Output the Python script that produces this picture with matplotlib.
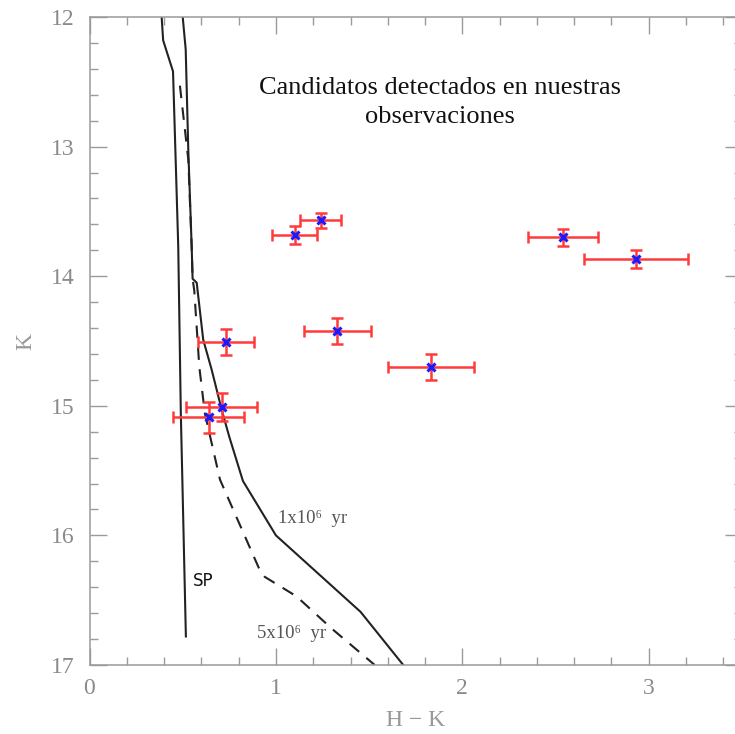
import matplotlib
matplotlib.use("Agg")
import matplotlib.pyplot as plt
from matplotlib.ticker import MultipleLocator

# Observed candidates: H-K colour, K magnitude and their errors
hk = [1.10, 1.24, 1.33, 0.73, 0.71, 0.64, 1.83, 2.54, 2.93]
kmag = [13.68, 13.57, 14.42, 14.51, 15.01, 15.09, 14.70, 13.70, 13.87]
hk_err = [0.12, 0.11, 0.18, 0.15, 0.19, 0.19, 0.23, 0.19, 0.28]
k_err = [0.07, 0.06, 0.10, 0.10, 0.11, 0.12, 0.10, 0.065, 0.07]

# Main sequence (SP) locus
sp_hk = [0.387, 0.395, 0.448, 0.476, 0.490, 0.498, 0.517]
sp_k = [12.0, 12.18, 12.42, 13.77, 15.07, 15.57, 16.78]

# 1 Myr isochrone
iso1_hk = [0.500, 0.516, 0.530, 0.548, 0.553, 0.575, 0.610, 0.655, 0.709,
           0.750, 0.823, 1.000, 1.454, 1.683]
iso1_k = [12.0, 12.25, 13.03, 13.77, 14.02, 14.05, 14.49, 14.72, 15.03,
          15.24, 15.58, 16.00, 16.59, 17.0]

# 5 Myr isochrone
iso5_hk = [0.485, 0.530, 0.548, 0.553, 0.562, 0.589, 0.619, 0.700, 0.914,
           0.940, 1.110, 1.300, 1.530]
iso5_k = [12.53, 13.10, 13.77, 14.02, 14.11, 14.70, 15.06, 15.57, 16.27,
          16.32, 16.47, 16.72, 17.0]

plt.rcParams['font.family'] = ['Liberation Serif', 'DejaVu Serif']
axis_gray = '#9a9a9a'

fig = plt.figure(figsize=(7.35, 7.34), dpi=100)
ax = fig.add_axes([89.5 / 735, (734 - 665) / 734, (742 - 89.5) / 735, (665 - 17) / 734])

line_color = '#222222'
ax.plot(sp_hk, sp_k, color=line_color, lw=1.5)
ax.plot(iso1_hk, iso1_k, color=line_color, lw=1.5)
ax.plot(iso5_hk, iso5_k, color=line_color, lw=1.5, ls=(0, (6, 4.5)))

ax.errorbar(hk, kmag, xerr=hk_err, yerr=k_err, fmt='none', ecolor='#ff3a3a',
            elinewidth=1.8, capsize=4.5, capthick=1.8, zorder=3)
ax.plot(hk, kmag, ls='none', marker='x', ms=5.5, mew=2.2, color='#1a1aff', zorder=4)

ax.text(0.555, 16.35, 'SP', fontsize=12, family='DejaVu Sans', color='#111111',
        ha='left', va='center')
ax.text(1.01, 15.87, '1x10⁶  yr', fontsize=13.5, color='#555555', ha='left', va='center')
ax.text(0.90, 16.76, '5x10⁶  yr', fontsize=13.5, color='#555555', ha='left', va='center')

ax.text(1.882, 12.66, 'Candidatos detectados en nuestras\nobservaciones',
        fontsize=19, color='#111111', ha='center', va='center', linespacing=1.45)

ax.set_xlim(0, 3.5)
ax.set_ylim(17, 12)

ax.xaxis.set_major_locator(MultipleLocator(1))
ax.xaxis.set_minor_locator(MultipleLocator(0.2))
ax.yaxis.set_major_locator(MultipleLocator(1))
ax.yaxis.set_minor_locator(MultipleLocator(0.2))

ax.tick_params(which='both', direction='in', top=True, right=True, color=axis_gray,
               width=1.0, labelcolor='#8a8a8a', labelsize=17)
ax.tick_params(which='major', length=12)
ax.tick_params(which='minor', length=6)
ax.tick_params(axis='y', which='major', pad=11)
ax.tick_params(axis='x', which='major', pad=9)

for sp in ax.spines.values():
    sp.set_color(axis_gray)
    sp.set_linewidth(1.1)

ax.set_xlabel('H − K', fontsize=17, color='#999999', labelpad=8)
ax.set_ylabel('K', fontsize=17, color='#999999', labelpad=10)

fig.savefig('out.png', dpi=100)
